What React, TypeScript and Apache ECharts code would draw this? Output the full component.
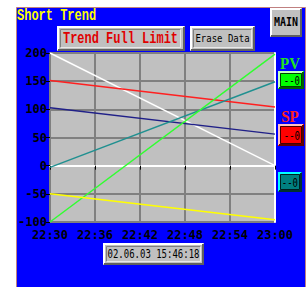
import React, { useEffect, useRef } from "react";
import * as echarts from "echarts";

const xTickLabels = ["22:30", "22:36", "22:42", "22:48", "22:54", "23:00"];
const yTicks = [-100, -50, 0, 50, 100, 150, 200];
const timeMinutes = [0, 30];
const whiteValues = [200, 0];
const redValues = [151, 104];
const navyValues = [103, 56];
const tealValues = [-3, 149];
const greenValues = [-100, 198];
const yellowValues = [-50, -96];
const titleText = "Short Trend";
const dateText = "02.06.03 15:46:18";

function bevel(x: number, y: number, w: number, h: number, fill: string, light: string, dark: string, lw = 2, z = 1) {
  const o = lw / 2;
  return [
    { type: "rect", z, shape: { x, y, width: w, height: h }, style: { fill } },
    {
      type: "polyline", z: z + 1,
      shape: { points: [[x + o, y + h - o], [x + o, y + o], [x + w - o, y + o]] },
      style: { stroke: light, lineWidth: lw, fill: null },
    },
    {
      type: "polyline", z: z + 1,
      shape: { points: [[x + o, y + h - o], [x + w - o, y + h - o], [x + w - o, y + o]] },
      style: { stroke: dark, lineWidth: lw, fill: null },
    },
  ];
}

function label(text: string, x: number, y: number, font: string, fill: string, align = "left", sy = 1, z = 5) {
  return {
    type: "text", z, x, y, scaleY: sy,
    style: { text, x: 0, y: 0, font, fill, textAlign: align, textVerticalAlign: "middle" },
  };
}

function makeSeries(name: string, values: number[], color: string) {
  return {
    name, type: "line", symbol: "none", silent: true,
    data: timeMinutes.map((t, i) => [t, values[i]]),
    lineStyle: { color, width: 1.5 },
  };
}

export default function App() {
  const ref = useRef<HTMLDivElement>(null);
  useEffect(() => {
    const chart = echarts.init(ref.current!, null, { renderer: "svg" });
    const mono = "DejaVu Sans Mono";
    const graphic: any[] = [
      { type: "rect", z: -10, shape: { x: 16.5, y: 7.5, width: 289, height: 290 }, style: { fill: "#0000ff", stroke: "#c08080", lineWidth: 1 } },
      label(titleText, 17, 16, `bold 12px "Liberation Mono"`, "#ffff00", "left", 1.3),
      ...bevel(57, 26, 128, 25, "#c0c0c0", "#ffffff", "#606060"),
      ...bevel(60, 29, 121, 19, "#c0c0c0", "#808080", "#e8e8e8", 1, 3),
      label("Trend Full Limit", 120.5, 38.5, `bold 12px "Liberation Mono"`, "#e00000", "center", 1.3),
      ...bevel(190, 26, 65, 25, "#c0c0c0", "#ffffff", "#606060"),
      ...bevel(193, 29, 59, 19, "#c0c0c0", "#808080", "#e8e8e8", 1, 3),
      label("Erase Data", 222.5, 38.5, `9px ${mono}`, "#000000", "center", 1.2),
      ...bevel(270, 8, 32, 29, "#c0c0c0", "#ffffff", "#606060"),
      label("MAIN", 286, 22.5, `bold 10px ${mono}`, "#000000", "center", 1.2),
      label("PV", 290, 63, `bold 15px "Liberation Serif"`, "#20e020", "center", 1.1),
      ...bevel(278, 71, 26, 18, "#00ff00", "#c0ffc0", "#006000"),
      { type: "rect", z: 3, shape: { x: 280.5, y: 73.5, width: 21, height: 13 }, style: { fill: null, stroke: "#004000", lineWidth: 1 } },
      label("--0", 300, 80.5, `9px ${mono}`, "#000000", "right", 1.3),
      label("SP", 290, 116, `bold 15px "Liberation Serif"`, "#ff2020", "center", 1.1),
      ...bevel(278, 124, 26, 22, "#ff0000", "#ffc0c0", "#600000"),
      { type: "rect", z: 3, shape: { x: 280.5, y: 126.5, width: 21, height: 17 }, style: { fill: null, stroke: "#400000", lineWidth: 1 } },
      label("--0", 300, 135.5, `9px ${mono}`, "#000000", "right", 1.3),
      ...bevel(278, 172, 24, 20, "#008080", "#00ffff", "#003030"),
      { type: "rect", z: 3, shape: { x: 280.5, y: 174.5, width: 19, height: 15 }, style: { fill: null, stroke: "#002020", lineWidth: 1 } },
      label("--0", 298, 182.5, `9px ${mono}`, "#000000", "right", 1.3),
      ...bevel(103, 243, 101, 22, "#c0c0c0", "#ffffff", "#606060"),
      ...bevel(106, 246, 95, 16, "#c0c0c0", "#808080", "#e8e8e8", 1, 3),
      label(dateText, 153.5, 254, `9px ${mono}`, "#000000", "center", 1.3),
    ];
    chart.setOption({
      animation: false,
      backgroundColor: "#ffffff",
      graphic,
      grid: { left: 50, top: 53, width: 225, height: 169, show: true, backgroundColor: "#c0c0c0", borderWidth: 0, z: 0 },
      xAxis: {
        type: "value", min: 0, max: 30, interval: 6,
        axisLine: { show: true, lineStyle: { color: "#ffffff", width: 2 } },
        axisTick: { show: true, length: 4, lineStyle: { color: "#000000", width: 1 } },
        axisLabel: {
          color: "#000000", fontFamily: mono, fontWeight: "bold", fontSize: 12, margin: 7,
          formatter: (v: number) => xTickLabels[Math.round(v / 6)] ?? "",
        },
        splitLine: { show: true, lineStyle: { color: "#808080", width: 2 } },
      },
      yAxis: [
        {
          type: "value", min: -100, max: 200, interval: 50,
          axisLine: { show: true, lineStyle: { color: "#808080", width: 2 } },
          axisTick: { show: true, length: 4, lineStyle: { color: "#000000", width: 1 } },
          axisLabel: {
            color: "#000000", fontFamily: mono, fontWeight: "bold", fontSize: 12, margin: 3,
            formatter: (v: number) => (yTicks.includes(v) ? String(v) : ""),
          },
          splitLine: { show: true, lineStyle: { color: "#808080", width: 2 } },
        },
        {
          type: "value", min: -100, max: 200, interval: 50, position: "right",
          axisLine: { show: true, lineStyle: { color: "#ffffff", width: 2 } },
          axisTick: { show: false }, axisLabel: { show: false }, splitLine: { show: false },
        },
      ],
      series: [
        makeSeries("white", whiteValues, "#ffffff"),
        makeSeries("red", redValues, "#ff2020"),
        makeSeries("navy", navyValues, "#202088"),
        makeSeries("teal", tealValues, "#209090"),
        makeSeries("green", greenValues, "#30ff30"),
        makeSeries("yellow", yellowValues, "#ffff00"),
      ],
    });
    return () => chart.dispose();
  }, []);
  return <div ref={ref} style={{ position: "fixed", left: 0, top: 0, width: 308, height: 287 }} />;
}
